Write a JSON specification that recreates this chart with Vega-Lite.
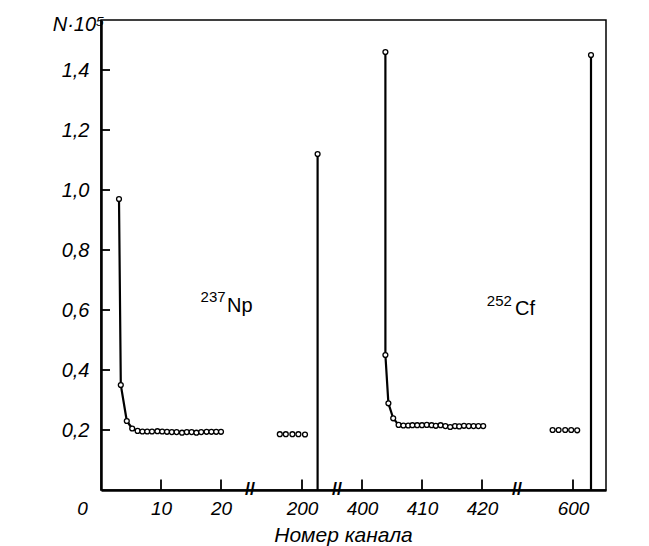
{
  "$schema": "https://vega.github.io/schema/vega-lite/v6.json",
  "width": 505,
  "height": 470,
  "autosize": {"type": "none"},
  "padding": {"left": 101, "top": 20, "right": 43, "bottom": 56},
  "background": "white",
  "config": {
    "view": {"stroke": "black", "strokeWidth": 1.5},
    "font": "Liberation Sans"
  },
  "datasets": {
    "lines": [
      {"series": "Np-a", "step": 1, "channel": 3.0, "value": 0.97},
      {"series": "Np-a", "step": 2, "channel": 3.3, "value": 0.35},
      {"series": "Np-a", "step": 3, "channel": 4.3, "value": 0.23},
      {"series": "Np-a", "step": 4, "channel": 5.2, "value": 0.205},
      {"series": "Np-a", "step": 5, "channel": 6.1, "value": 0.197},
      {"series": "Np-b", "step": 1, "channel": 202.6, "value": 0},
      {"series": "Np-b", "step": 2, "channel": 202.6, "value": 1.12},
      {"series": "Cf-a", "step": 1, "channel": 403.9, "value": 1.46},
      {"series": "Cf-a", "step": 2, "channel": 403.9, "value": 0.45},
      {"series": "Cf-a", "step": 3, "channel": 404.4, "value": 0.289},
      {"series": "Cf-a", "step": 4, "channel": 405.2, "value": 0.239},
      {"series": "Cf-a", "step": 5, "channel": 406.1, "value": 0.217},
      {"series": "Cf-b", "step": 1, "channel": 603.0, "value": 0},
      {"series": "Cf-b", "step": 2, "channel": 603.0, "value": 1.45}
    ],
    "tickpaths": [
      {"series": "x10", "step": 1, "channel": 10, "value": 0},
      {"series": "x10", "step": 2, "channel": 10, "value": 0.035},
      {"series": "x20", "step": 1, "channel": 20, "value": 0},
      {"series": "x20", "step": 2, "channel": 20, "value": 0.035},
      {"series": "x200", "step": 1, "channel": 200, "value": 0},
      {"series": "x200", "step": 2, "channel": 200, "value": 0.035},
      {"series": "x400", "step": 1, "channel": 400, "value": 0},
      {"series": "x400", "step": 2, "channel": 400, "value": 0.035},
      {"series": "x410", "step": 1, "channel": 410, "value": 0},
      {"series": "x410", "step": 2, "channel": 410, "value": 0.035},
      {"series": "x420", "step": 1, "channel": 420, "value": 0},
      {"series": "x420", "step": 2, "channel": 420, "value": 0.035},
      {"series": "x600", "step": 1, "channel": 600, "value": 0},
      {"series": "x600", "step": 2, "channel": 600, "value": 0.035},
      {"series": "y02", "step": 1, "channel": 0, "value": 0.2},
      {"series": "y02", "step": 2, "channel": 1.5, "value": 0.2},
      {"series": "y04", "step": 1, "channel": 0, "value": 0.4},
      {"series": "y04", "step": 2, "channel": 1.5, "value": 0.4},
      {"series": "y06", "step": 1, "channel": 0, "value": 0.6},
      {"series": "y06", "step": 2, "channel": 1.5, "value": 0.6},
      {"series": "y08", "step": 1, "channel": 0, "value": 0.8},
      {"series": "y08", "step": 2, "channel": 1.5, "value": 0.8},
      {"series": "y10", "step": 1, "channel": 0, "value": 1.0},
      {"series": "y10", "step": 2, "channel": 1.5, "value": 1.0},
      {"series": "y12", "step": 1, "channel": 0, "value": 1.2},
      {"series": "y12", "step": 2, "channel": 1.5, "value": 1.2},
      {"series": "y14", "step": 1, "channel": 0, "value": 1.4},
      {"series": "y14", "step": 2, "channel": 1.5, "value": 1.4}
    ],
    "points": [
      {"channel": 3.0, "value": 0.97},
      {"channel": 3.3, "value": 0.35},
      {"channel": 4.3, "value": 0.23},
      {"channel": 5.2, "value": 0.205},
      {"channel": 6.1, "value": 0.197},
      {"channel": 6.9, "value": 0.195},
      {"channel": 7.7, "value": 0.195},
      {"channel": 8.5, "value": 0.195},
      {"channel": 9.4, "value": 0.196},
      {"channel": 10.2, "value": 0.195},
      {"channel": 11.0, "value": 0.194},
      {"channel": 11.8, "value": 0.193},
      {"channel": 12.6, "value": 0.193},
      {"channel": 13.5, "value": 0.191},
      {"channel": 14.3, "value": 0.193},
      {"channel": 15.1, "value": 0.193},
      {"channel": 15.9, "value": 0.191},
      {"channel": 16.7, "value": 0.193},
      {"channel": 17.6, "value": 0.194},
      {"channel": 18.4, "value": 0.194},
      {"channel": 19.2, "value": 0.194},
      {"channel": 20.0, "value": 0.194},
      {"channel": 196.3, "value": 0.186},
      {"channel": 197.3, "value": 0.186},
      {"channel": 198.4, "value": 0.186},
      {"channel": 199.4, "value": 0.186},
      {"channel": 200.5, "value": 0.185},
      {"channel": 202.6, "value": 1.12},
      {"channel": 403.9, "value": 1.46},
      {"channel": 403.9, "value": 0.45},
      {"channel": 404.4, "value": 0.289},
      {"channel": 405.2, "value": 0.239},
      {"channel": 406.1, "value": 0.217},
      {"channel": 406.9, "value": 0.215},
      {"channel": 407.7, "value": 0.215},
      {"channel": 408.4, "value": 0.216},
      {"channel": 409.2, "value": 0.216},
      {"channel": 410.0, "value": 0.216},
      {"channel": 410.8, "value": 0.217},
      {"channel": 411.6, "value": 0.216},
      {"channel": 412.3, "value": 0.214},
      {"channel": 413.1, "value": 0.216},
      {"channel": 413.9, "value": 0.213},
      {"channel": 414.7, "value": 0.21},
      {"channel": 415.5, "value": 0.213},
      {"channel": 416.2, "value": 0.212},
      {"channel": 417.0, "value": 0.214},
      {"channel": 417.8, "value": 0.213},
      {"channel": 418.6, "value": 0.213},
      {"channel": 419.4, "value": 0.213},
      {"channel": 420.2, "value": 0.213},
      {"channel": 596.6, "value": 0.2},
      {"channel": 597.6, "value": 0.2},
      {"channel": 598.7, "value": 0.2},
      {"channel": 599.7, "value": 0.2},
      {"channel": 600.7, "value": 0.199},
      {"channel": 603.0, "value": 1.45}
    ],
    "labels": [
      {"role": "mass", "text": "237", "channel": 16.6, "value": 0.627},
      {"role": "element", "text": "Np", "channel": 21.0, "value": 0.593},
      {"role": "mass", "text": "252", "channel": 420.8, "value": 0.613},
      {"role": "element", "text": "Cf", "channel": 485.0, "value": 0.583}
    ],
    "breaks": [
      {"channel": 52.6, "value": 0},
      {"channel": 364, "value": 0},
      {"channel": 498, "value": 0}
    ]
  },
  "encoding": {
    "x": {
      "field": "channel",
      "type": "quantitative",
      "scale": {
        "domain": [0, 24.5, 193, 205, 396, 424, 593, 605.5],
        "range": [0, 147, 159, 231, 237, 405, 430, 505],
        "nice": false,
        "zero": false
      },
      "axis": {
        "values": [0, 10, 20, 200, 400, 410, 420, 600],
        "title": "Номер канала",
        "titleFont": "Liberation Sans",
        "titleFontStyle": "italic",
        "titleFontWeight": "normal",
        "titleFontSize": 21,
        "titleColor": "black",
        "titleX": 242,
        "titleY": 51,
        "titleAlign": "center",
        "titleBaseline": "alphabetic",
        "labelFont": "Liberation Sans",
        "labelFontSize": 19,
        "labelFontStyle": "italic",
        "labelColor": "black",
        "labelOffset": {"condition": {"test": "datum.value === 0", "value": -19}, "value": 0},
        "ticks": false,
        "domainColor": "black",
        "domainWidth": 2.5,
        "labelPadding": 9,
        "labelOverlap": false,
        "labelFlush": false,
        "labelBound": false,
        "grid": false
      }
    },
    "y": {
      "field": "value",
      "type": "quantitative",
      "scale": {"domain": [0, 1.5667], "nice": false, "zero": true},
      "axis": {
        "values": [0.2, 0.4, 0.6, 0.8, 1.0, 1.2, 1.4],
        "labelExpr": "replace(format(datum.value, '.1f'), '.', ',')",
        "title": "N·10⁵",
        "titleFont": "Liberation Sans",
        "titleFontStyle": "italic",
        "titleFontWeight": "normal",
        "titleFontSize": 20,
        "titleColor": "black",
        "titleAngle": 0,
        "titleAlign": "right",
        "titleBaseline": "alphabetic",
        "titleX": 3,
        "titleY": 10,
        "labelFont": "Liberation Sans",
        "labelFontSize": 20,
        "labelFontStyle": "italic",
        "labelColor": "black",
        "ticks": false,
        "domainColor": "black",
        "domainWidth": 2.5,
        "labelPadding": 12,
        "grid": false
      }
    }
  },
  "layer": [
    {
      "data": {"name": "tickpaths"},
      "mark": {"type": "line", "color": "black", "strokeWidth": 1.8},
      "encoding": {
        "detail": {"field": "series", "type": "nominal"},
        "order": {"field": "step", "type": "quantitative"}
      }
    },
    {
      "data": {"name": "lines"},
      "mark": {"type": "line", "color": "black", "strokeWidth": 2.2},
      "encoding": {
        "detail": {"field": "series", "type": "nominal"},
        "order": {"field": "step", "type": "quantitative"}
      }
    },
    {
      "data": {"name": "points"},
      "mark": {"type": "point", "shape": "circle", "filled": true, "fill": "white", "stroke": "black", "strokeWidth": 1.3, "size": 24, "opacity": 1}
    },
    {
      "data": {"name": "labels"},
      "transform": [{"filter": "datum.role === 'mass'"}],
      "mark": {"type": "text", "align": "left", "baseline": "alphabetic", "fontSize": 15, "color": "black", "font": "Liberation Sans"},
      "encoding": {"text": {"field": "text"}}
    },
    {
      "data": {"name": "labels"},
      "transform": [{"filter": "datum.role === 'element'"}],
      "mark": {"type": "text", "align": "left", "baseline": "alphabetic", "fontSize": 20, "color": "black", "font": "Liberation Sans"},
      "encoding": {"text": {"field": "text"}}
    },
    {
      "data": {"name": "breaks"},
      "mark": {"type": "text", "align": "center", "baseline": "middle", "fontSize": 18, "fontWeight": "bold", "color": "black", "text": "//", "font": "Liberation Sans"}
    }
  ]
}
